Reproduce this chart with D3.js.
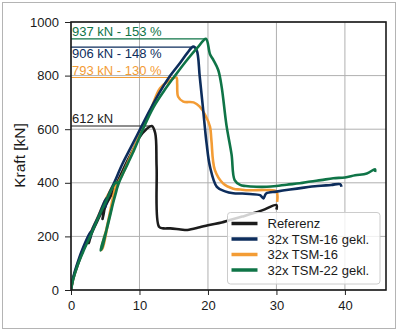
<!DOCTYPE html>
<html>
<head>
<meta charset="utf-8">
<script src="https://cdn.jsdelivr.net/npm/d3@7"></script>
<style>
  body { margin: 0; background: #fff; }
  svg { display: block; font-family: "Liberation Sans", Arial, sans-serif; }
</style>
</head>
<body>
<svg id="chart" width="398" height="332"></svg>
<script>
const seriesNames = ['Referenz', '32x TSM-16 gekl.', '32x TSM-16', '32x TSM-22 gekl.'];
const seriesColors = ['#1c1c1c', '#0d2d5c', '#f39c35', '#0f7447'];

// Weg [mm] / Kraft [kN]
const refX = [0, 0.3, 1, 1.8, 2.6, 2.9, 2.6, 3.0, 3.8, 4.7, 4.9, 4.6, 5.0, 6.0, 7, 8, 9, 10, 11, 11.8, 12.3, 12.5, 12.85, 13.5, 14.5, 16, 17, 18.8, 20, 22, 23.2, 25, 26.6, 28, 30, 30];
const refY = [0, 40, 95, 150, 195, 205, 175, 210, 255, 300, 305, 265, 310, 360, 415, 470, 520, 570, 600, 612, 585, 460, 236, 230, 230, 226, 224, 234, 242, 252, 261, 274, 286, 298, 317, 300];

const tsm16gX = [0, 0.3, 1, 1.8, 2.7, 3.0, 2.8, 3.1, 4, 5, 5.3, 5.0, 5.4, 6.3, 7.5, 8.7, 10.1, 11.5, 13, 14.5, 16, 17, 17.85, 18.35, 18.8, 19.3, 19.8, 20.3, 21.3, 22.5, 23.7, 25, 26.1, 27.6, 28.1, 28.5, 30, 32, 34, 36, 38, 39.3, 39.5];
const tsm16gY = [0, 45, 105, 160, 210, 220, 195, 225, 275, 335, 345, 310, 350, 400, 470, 530, 600, 670, 740, 800, 850, 885, 908, 895, 796, 672, 547, 460, 385, 368, 361, 360, 358, 354, 342, 360, 367, 375, 382, 388, 392, 395, 385];

const tsm16X = [0, 0.3, 1, 1.8, 2.7, 3.8, 5, 6.3, 6.6, 6.0, 5.2, 4.4, 4.6, 5.5, 6.4, 6.9, 7.5, 8.7, 10.2, 11.6, 13, 14.3, 15.4, 15.5, 15.65, 16.4, 17.9, 18.8, 19.6, 20.3, 20.5, 21, 22.2, 23.7, 24.7, 26, 28.6, 30, 30.1];
const tsm16Y = [0, 40, 100, 155, 205, 265, 335, 395, 405, 330, 230, 150, 155, 260, 360, 400, 430, 500, 590, 670, 753, 780, 793, 770, 721, 703, 700, 684, 653, 609, 560, 448, 398, 378, 375, 372, 373, 367, 329];

const tsm22gX = [0, 0.3, 1, 1.9, 2.8, 3.9, 5.1, 6.5, 6.8, 6.1, 5.2, 4.3, 4.5, 5.5, 6.5, 7.0, 7.7, 9, 10.5, 12, 13.5, 15.2, 17, 18.5, 19.7, 20.3, 20.8, 21.5, 22, 22.7, 23.45, 23.9, 24.7, 25.5, 27.1, 28.6, 30, 31.5, 33.4, 35, 36.5, 38.3, 40, 41.5, 43.2, 44.4, 44.4];
const tsm22gY = [0, 38, 95, 150, 200, 265, 330, 400, 400, 320, 225, 148, 155, 260, 360, 400, 440, 510, 600, 680, 740, 800, 860, 905, 937, 880, 858, 821, 758, 615, 505, 410, 392, 388, 385, 385, 388, 393, 398, 405, 410, 417, 420, 428, 435, 450, 440];

const peakLabels = ['612 kN', '906 kN - 148 %', '793 kN - 130 %', '937 kN - 153 %'];
const peakY = [612, 906, 793, 937];
const peakX = [11.8, 17.85, 15.4, 19.7];

const xTicks = [0, 10, 20, 30, 40];
const yTicks = [0, 200, 400, 600, 800, 1000];

const margin = { top: 22, right: 12, bottom: 42, left: 71 };
const width = 398 - margin.left - margin.right;
const height = 332 - margin.top - margin.bottom;

const svg = d3.select('#chart');

// outer frame
svg.append('rect')
  .attr('x', 2.5).attr('y', 2.5)
  .attr('width', 393).attr('height', 326)
  .attr('fill', 'none')
  .attr('stroke', '#b4b4b4')
  .attr('stroke-width', 1);

const g = svg.append('g')
  .attr('transform', 'translate(' + margin.left + ',' + margin.top + ')');

const x = d3.scaleLinear().domain([0, 46]).range([0, width]);
const y = d3.scaleLinear().domain([0, 1000]).range([height, 0]);

g.append('defs').append('clipPath').attr('id', 'clip')
  .append('rect').attr('width', width).attr('height', height);

// grid
g.append('g')
  .selectAll('line')
  .data(xTicks)
  .enter().append('line')
  .attr('x1', d => x(d)).attr('x2', d => x(d))
  .attr('y1', 0).attr('y2', height)
  .attr('stroke', '#b0b0b0').attr('stroke-width', 1);

g.append('g')
  .selectAll('line')
  .data(yTicks)
  .enter().append('line')
  .attr('x1', 0).attr('x2', width)
  .attr('y1', d => y(d)).attr('y2', d => y(d))
  .attr('stroke', '#b0b0b0').attr('stroke-width', 1);

// axes
const xAxis = g.append('g')
  .attr('transform', 'translate(0,' + height + ')')
  .call(d3.axisBottom(x).tickValues(xTicks).tickFormat(d3.format('d')).tickSize(5).tickPadding(6));
const yAxis = g.append('g')
  .call(d3.axisLeft(y).tickValues(yTicks).tickFormat(d3.format('d')).tickSize(6).tickPadding(6));

[xAxis, yAxis].forEach(a => {
  a.select('.domain').remove();
  a.selectAll('line').attr('stroke', '#222').attr('stroke-width', 1);
  a.selectAll('text')
    .style('font-size', '13px')
    .style('font-family', '"Liberation Sans", Arial, sans-serif')
    .attr('fill', '#1a1a1a');
});

svg.append('text')
  .attr('transform', 'translate(25,155.5) rotate(-90)')
  .attr('text-anchor', 'middle')
  .style('font-size', '15.5px')
  .attr('fill', '#1a1a1a')
  .text('Kraft [kN]');

// peak annotation lines
const annot = g.append('g');
peakY.forEach((v, i) => {
  annot.append('line')
    .attr('x1', x(0)).attr('x2', x(peakX[i]))
    .attr('y1', y(v)).attr('y2', y(v))
    .attr('stroke', seriesColors[i])
    .attr('stroke-width', 1.2);
  annot.append('text')
    .attr('x', x(0) + 1)
    .attr('y', i === 1 ? y(v) + 10.5 : y(v) - 2.5)
    .style('font-size', '13px')
    .attr('fill', seriesColors[i])
    .text(peakLabels[i]);
});

// curves
const series = [
  { xs: refX, ys: refY },
  { xs: tsm16gX, ys: tsm16gY },
  { xs: tsm16X, ys: tsm16Y },
  { xs: tsm22gX, ys: tsm22gY }
];

const line = d3.line()
  .curve(d3.curveCatmullRom.alpha(0.5))
  .x(d => x(d[0]))
  .y(d => y(d[1]));

const curves = g.append('g').attr('clip-path', 'url(#clip)');
[0, 2, 1, 3].forEach(i => {
  const pts = series[i].xs.map((v, k) => [v, series[i].ys[k]]);
  curves.append('path')
    .datum(pts)
    .attr('fill', 'none')
    .attr('stroke', seriesColors[i])
    .attr('stroke-width', 2.6)
    .attr('stroke-linejoin', 'round')
    .attr('d', line);
});

// frame of plot
g.append('rect')
  .attr('width', width).attr('height', height)
  .attr('fill', 'none')
  .attr('stroke', '#1a1a1a')
  .attr('stroke-width', 1.6);

// legend
const lg = svg.append('g').attr('transform', 'translate(227.5,212.5)');
lg.append('rect')
  .attr('width', 152.5).attr('height', 71.5)
  .attr('rx', 3)
  .attr('fill', '#fff').attr('fill-opacity', 0.8)
  .attr('stroke', '#cccccc');

const items = lg.selectAll('.legend')
  .data(seriesNames)
  .enter().append('g')
  .attr('class', 'legend')
  .attr('transform', (_, i) => `translate(0, ${11 + i * 15.5})`);

items.append('line')
  .attr('x1', 4).attr('x2', 30)
  .attr('y1', 0).attr('y2', 0)
  .attr('stroke', (_, i) => seriesColors[i])
  .attr('stroke-width', 3.5);

items.append('text')
  .attr('x', 40)
  .attr('y', 0)
  .attr('dy', '0.35em')
  .style('font-size', '13px')
  .attr('fill', '#1a1a1a')
  .text(d => d);
</script>
</body>
</html>
